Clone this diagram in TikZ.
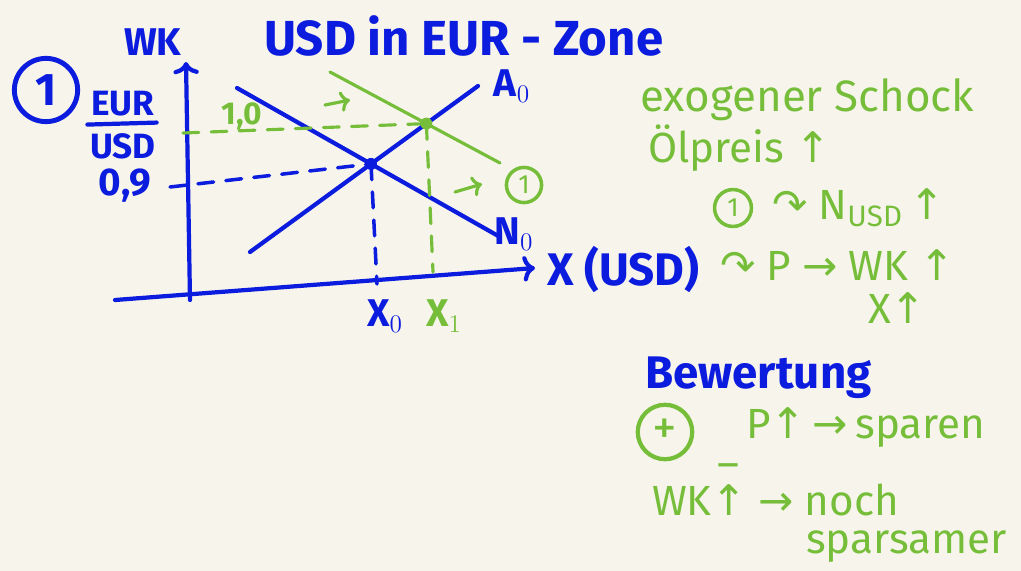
\documentclass[tikz,border=0pt]{standalone}
\usepackage{fontspec}
\setmainfont{Fira Sans}
\newfontfamily\symfont{DejaVu Sans}
\usetikzlibrary{positioning,arrows.meta,calc}
\definecolor{inkblue}{RGB}{12,28,222}
\definecolor{inkgreen}{RGB}{118,190,58}
\definecolor{paper}{RGB}{247,245,235}
\newcommand{\uparr}{{\symfont ↑}}
\newcommand{\rarr}{{\symfont →}}
\newcommand{\curvarr}{{\symfont ↷}}
\tikzset{
  blueline/.style={draw=inkblue, line width=2.4pt, line cap=round},
  greenline/.style={draw=inkgreen, line width=1.8pt, line cap=round},
  bluetext/.style={text=inkblue, font=\fontsize{22}{24}\selectfont\bfseries, inner sep=1pt},
  greentext/.style={text=inkgreen, font=\fontsize{24}{26}\selectfont, inner sep=1pt},
  ring/.style={circle, draw, line width=2pt, inner sep=0pt}
}

\begin{document}
\begin{tikzpicture}[x=0.02cm, y=-0.02cm]
\useasboundingbox[fill=paper] (0,0) rectangle (1021,571);
% titles
\node[bluetext, anchor=west] (wk) at (122,42) {WK};
\node[bluetext, anchor=west, font=\fontsize{28}{30}\selectfont\bfseries] (title) at (262,36) {USD in EUR - Zone};
\node[bluetext, ring, draw=inkblue, line width=2.8pt, minimum size=36pt, font=\fontsize{26}{28}\selectfont\bfseries] (one) at (46,90) {1};
% axes
\coordinate (origin) at (190,300);
\coordinate (ytop) at (186,62);
\coordinate (xleft) at (115,300);
\coordinate (xright) at (535,268);
\draw[blueline, ->] (origin) -- (ytop);
\draw[blueline, ->] (xleft) -- (xright);
\node[bluetext, anchor=west, font=\fontsize{26}{28}\selectfont\bfseries] (xlab) at (545,270) {X (USD)};
% axis labels
\node[bluetext, font=\fontsize{20}{22}\selectfont\bfseries] (eur) at (123,104) {EUR};
\node[bluetext, font=\fontsize{20}{22}\selectfont\bfseries] (usd) at (123,146) {USD};
\draw[blueline] ($(eur.south west)+(-2,6)$) -- ($(eur.south east)+(0,4)$);
\node[bluetext] (nine) at (125,186) {0,9};
\node[text=inkgreen, font=\fontsize{18}{20}\selectfont\bfseries, inner sep=1pt] (tenth) at (242,116) {1,0};
% demand and supply
\coordinate (n0s) at (237,88);
\coordinate (n0e) at (500,237);
\coordinate (a0s) at (250,252);
\coordinate (a0e) at (478,86);
\coordinate (n1s) at (330,72);
\coordinate (n1e) at (500,163);
\draw[blueline] (n0s) -- (n0e);
\draw[blueline] (a0s) -- (a0e);
\draw[greenline] (n1s) -- (n1e);
\node[bluetext] (alab) at (512,86) {A$_0$};
\node[bluetext] (nlab) at (514,234) {N$_0$};
% equilibria
\coordinate (eq0) at (intersection of n0s--n0e and a0s--a0e);
\coordinate (eq1) at (intersection of n1s--n1e and a0s--a0e);
\fill[inkblue] (eq0) circle (6);
\fill[inkgreen] (eq1) circle (6);
\coordinate (y0) at (170,187);
\coordinate (y1) at (183,133);
\coordinate (x0) at (377,284);
\coordinate (x1) at (433,272);
\draw[blueline, line width=2pt, dash pattern=on 9pt off 7pt] (y0) -- (eq0);
\draw[blueline, line width=2pt, dash pattern=on 9pt off 7pt] (eq0) -- (x0);
\draw[greenline, dash pattern=on 9pt off 7pt] (y1) -- (eq1);
\draw[greenline, dash pattern=on 9pt off 7pt] (eq1) -- (x1);
\node[bluetext] (x0lab) at (385,316) {X$_0$};
\node[greentext, font=\fontsize{22}{24}\selectfont\bfseries] (x1lab) at (444,316) {X$_1$};
% shift
\coordinate (s1a) at (325,105);
\coordinate (s1b) at (350,100);
\coordinate (s2a) at (455,192);
\coordinate (s2b) at (482,184);
\draw[greenline, ->] (s1a) -- (s1b);
\draw[greenline, ->] (s2a) -- (s2b);
\node[greentext, ring, draw=inkgreen, font=\fontsize{15}{17}\selectfont, minimum size=20pt] (shift) at (524,185) {1};
% notes
\node[greentext, anchor=west, font=\fontsize{25}{27}\selectfont] (shock) at (638,100) {exogener Schock};
\node[greentext, anchor=west] (oil) at (646,148) {Ölpreis \uparr};
\node[greentext, ring, draw=inkgreen, font=\fontsize{15}{17}\selectfont, minimum size=21pt] (cause) at (733,208) {1};
\node[greentext, anchor=west] (demand) at (770,208) {\curvarr\ N$_{\mathrm{USD}}$\,\uparr};
\node[greentext, anchor=west] (price) at (718,265) {\curvarr\ P \rarr\ WK \uparr};
\node[greentext, anchor=west] (qty) at (866,308) {X\uparr};
\node[bluetext, anchor=west, font=\fontsize{26}{28}\selectfont\bfseries] (rating) at (643,378) {Bewertung};
\node[greentext, ring, draw=inkgreen, line width=2.4pt, minimum size=31pt, font=\fontsize{28}{30}\selectfont] (plus) at (665,432) {+};
\node[greentext, anchor=west] (pro) at (744,428) {P\uparr\,\rarr\,sparen};
\node[greentext, text height=3pt, text depth=0pt, inner sep=0pt] (minus) at (728,476) {--};
\node[greentext, anchor=west] (contra) at (650,500) {WK\uparr\ \rarr\ noch};
\node[greentext, anchor=west] (contra2) at (804,547) {sparsamer};
\end{tikzpicture}
\end{document}
